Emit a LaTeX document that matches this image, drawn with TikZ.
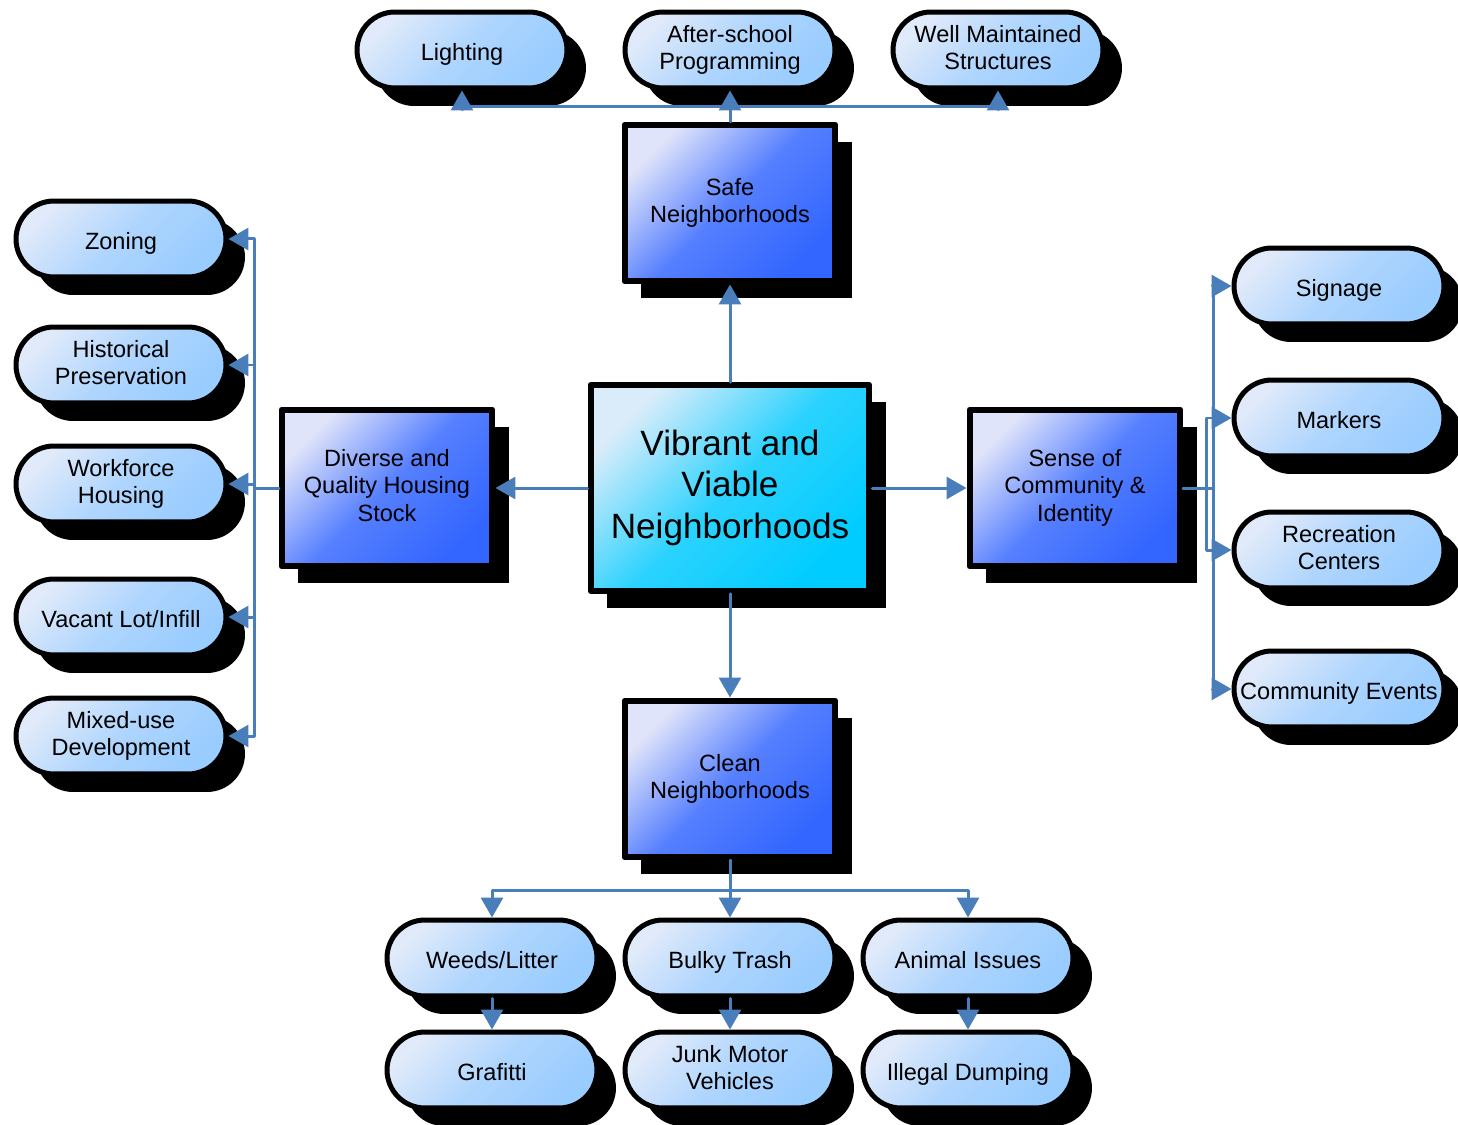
\documentclass[tikz,border=0pt]{standalone}
\usepackage{fontspec}
\setmainfont{Liberation Sans}
\usetikzlibrary{arrows.meta,shadows}

\definecolor{linkblue}{RGB}{74,126,187}
\definecolor{pillmain}{RGB}{153,204,255}
\definecolor{pilllight}{RGB}{224,234,250}
\definecolor{boxmain}{RGB}{51,102,255}
\definecolor{boxlight}{RGB}{224,228,250}
\definecolor{coremain}{RGB}{0,204,255}
\definecolor{corelight}{RGB}{218,236,250}

\begin{document}
\begin{tikzpicture}[x=0.02cm, y=-0.02cm, line cap=round, line join=round,
    >={Triangle[length=0.4cm,width=0.44cm]},
    link/.style={->, draw=linkblue, line width=0.06cm},
    textbox/.style={align=center,
        execute at begin node={\rule{0pt}{1.09em}},
        execute at end node={\rule[-0.215em]{0pt}{0pt}}},
    pill/.style={textbox, draw=black, line width=0.1cm, rounded corners=0.76cm,
        minimum width=4.2cm, minimum height=1.52cm, inner sep=1pt,
        top color=pilllight, bottom color=pillmain, middle color=pillmain!70!pilllight,
        shading angle=45,
        drop shadow={shadow xshift=0.38cm, shadow yshift=-0.36cm, fill=black, opacity=1},
        font=\fontsize{13.4}{15.9}\selectfont},
    area/.style={textbox, draw=black, line width=0.12cm,
        minimum width=4.22cm, minimum height=3.14cm,
        top color=boxlight, bottom color=boxmain, middle color=boxmain!80!boxlight,
        shading angle=45,
        drop shadow={shadow xshift=0.33cm, shadow yshift=-0.34cm, fill=black, opacity=1},
        font=\fontsize{13.4}{15.9}\selectfont},
    core/.style={area, minimum width=5.58cm, minimum height=4.12cm,
        top color=corelight, bottom color=coremain, middle color=coremain!80!corelight,
        shading angle=45,
        font=\fontsize{20}{23.8}\selectfont}]

    \useasboundingbox (0,0) rectangle (1458,1125);

    % Centro
    \node[core] (core) at (730,488) {Vibrant and\\Viable\\Neighborhoods};

    % Aree
    \node[area] (safe) at (730,203) {Safe\\Neighborhoods};
    \node[area] (housing) at (387,488) {Diverse and\\Quality Housing\\Stock};
    \node[area] (identity) at (1075,488) {Sense of\\Community \&\\Identity};
    \node[area] (clean) at (730,779) {Clean\\Neighborhoods};

    % Sopra
    \node[pill] (lighting) at (462,50) {Lighting};
    \node[pill] (afterschool) at (730,50) {After-school\\Programming};
    \node[pill] (structures) at (998,50) {Well Maintained\\Structures};

    % Sinistra
    \node[pill] (zoning) at (121,239) {Zoning};
    \node[pill] (historic) at (121,365) {Historical\\Preservation};
    \node[pill] (workforce) at (121,484) {Workforce\\Housing};
    \node[pill] (infill) at (121,617) {Vacant Lot/Infill};
    \node[pill] (mixeduse) at (121,736) {Mixed-use\\Development};

    % Destra
    \node[pill] (signage) at (1339,286) {Signage};
    \node[pill] (markers) at (1339,418) {Markers};
    \node[pill] (recreation) at (1339,550) {Recreation\\Centers};
    \node[pill] (events) at (1339,689) {Community Events};

    % Sotto
    \node[pill] (weeds) at (492,958) {Weeds/Litter};
    \node[pill] (bulky) at (730,958) {Bulky Trash};
    \node[pill] (animal) at (968,958) {Animal Issues};
    \node[pill] (grafitti) at (492,1070) {Grafitti};
    \node[pill] (junk) at (730,1070) {Junk Motor\\Vehicles};
    \node[pill] (dumping) at (968,1070) {Illegal Dumping};

    % Frecce dal centro
    \draw[link] (core.north) -- (safe.south);
    \draw[link] (core.south) -- (clean.north);
    \draw[link] (core.west) -- (housing.east);
    \draw[link] (core.east) -- (identity.west);

    % Collegamenti
    \coordinate (topbus) at (730,107);
    \foreach \n in {lighting,afterschool,structures}
        \draw[link] (safe.north) -- (topbus) -| (\n.south);

    \coordinate (leftbus) at (254,488);
    \foreach \n in {zoning,historic,workforce,infill,mixeduse}
        \draw[link] (housing.west) -- (leftbus) |- (\n.east);

    \coordinate (rightbus) at (1213,488);
    \coordinate (innerbus) at (1206,488);
    \foreach \n in {signage,events}
        \draw[link] (identity.east) -- (rightbus) |- (\n.west);
    \foreach \n in {markers,recreation}
        \draw[link] (identity.east) -- (innerbus) |- (\n.west);

    \coordinate (botbus) at (730,890);
    \foreach \n in {weeds,bulky,animal}
        \draw[link] (clean.south) -- (botbus) -| (\n.north);

    \draw[link] (weeds.south) -- (grafitti.north);
    \draw[link] (bulky.south) -- (junk.north);
    \draw[link] (animal.south) -- (dumping.north);

\end{tikzpicture}
\end{document}
